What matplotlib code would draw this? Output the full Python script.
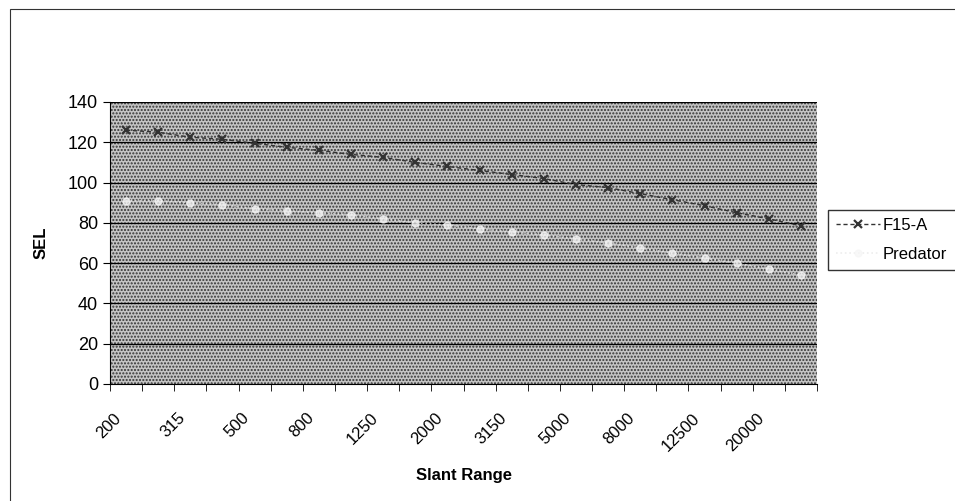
import matplotlib
matplotlib.use('Agg')
import matplotlib.pyplot as plt
from matplotlib.patches import Rectangle

plt.rcParams['font.family'] = ['Liberation Sans', 'DejaVu Sans']

slant_range = ['200', '250', '315', '400', '500', '630', '800', '1000', '1250', '1600', '2000',
               '2500', '3150', '4000', '5000', '6300', '8000', '10000', '12500', '16000', '20000', '25000']
f15a = [126, 125, 122.5, 121.5, 119.5, 117.5, 116, 114, 112.5, 110, 108,
        106, 104, 102, 99, 97.5, 94.5, 91.5, 88.5, 85, 82, 78.5]
predator = [91, 91, 90, 89, 87, 86, 85, 84, 82, 80, 79,
            77, 75.5, 74, 72, 70, 67.5, 65, 62.5, 60, 57, 54]
yticks = [0, 20, 40, 60, 80, 100, 120, 140]

fig = plt.figure(figsize=(9.55, 5.01), dpi=100)
ax = fig.add_axes([110/955, 1 - 384/501, 707/955, 282/501])

# outer chart border (only left and top are inside the picture)
fig.patches.append(Rectangle((10/955, -0.1), 1.0, 1 - 9/501 + 0.1, transform=fig.transFigure,
                             fill=False, edgecolor='#333333', linewidth=0.8))

# stippled plot area
ax.add_patch(Rectangle((0, 0), 1, 1, transform=ax.transAxes, facecolor='#c4c4c4',
                       edgecolor='#333333', hatch='.....', linewidth=0, zorder=0))

x = list(range(len(slant_range)))
for v in yticks[1:]:
    ax.axhline(v, color='black', linewidth=0.9, zorder=1)

ax.plot(x, f15a, color='#333333', linestyle=(0, (3, 2)), linewidth=1,
        marker='x', markersize=6, markeredgewidth=1.6, label='F15-A', zorder=3)
ax.plot(x, predator, color='#e8e8e8', linestyle=':', linewidth=1.2, alpha=0.75,
        marker='o', markersize=5, markerfacecolor='#f6f6f6', markeredgecolor='#f6f6f6',
        label='Predator', zorder=3)

ax.set_xlim(-0.5, len(slant_range) - 0.5)
ax.set_ylim(0, 140)
ax.set_yticks(yticks)
ax.set_yticklabels([str(v) for v in yticks], fontsize=13)

# label anchors sit a little left of the category centre, as in the original
ax.set_xticks([i - 0.4 for i in x[::2]])
ax.set_xticklabels(slant_range[::2], fontsize=12, rotation=45, ha='right',
                   va='top', rotation_mode='anchor')
ax.set_xticks([i - 0.5 for i in range(len(slant_range) + 1)], minor=True)
ax.tick_params(axis='x', which='major', length=0, pad=19)
ax.tick_params(axis='x', which='minor', length=5, direction='out')
ax.tick_params(axis='y', length=5, direction='out')

for s in ['top', 'right']:
    ax.spines[s].set_visible(False)

ax.set_ylabel('SEL', fontsize=12, fontweight='bold', labelpad=14)
ax.set_xlabel('Slant Range', fontsize=12, fontweight='bold', labelpad=10)

fig.legend(loc='upper left', bbox_to_anchor=(828/955, 1 - 210/501), fontsize=12,
           frameon=True, fancybox=False, edgecolor='#333333', framealpha=1,
           handlelength=2.6, handletextpad=0.2, borderpad=0.5, borderaxespad=0,
           labelspacing=0.8)

fig.savefig('out.png', dpi=100)
